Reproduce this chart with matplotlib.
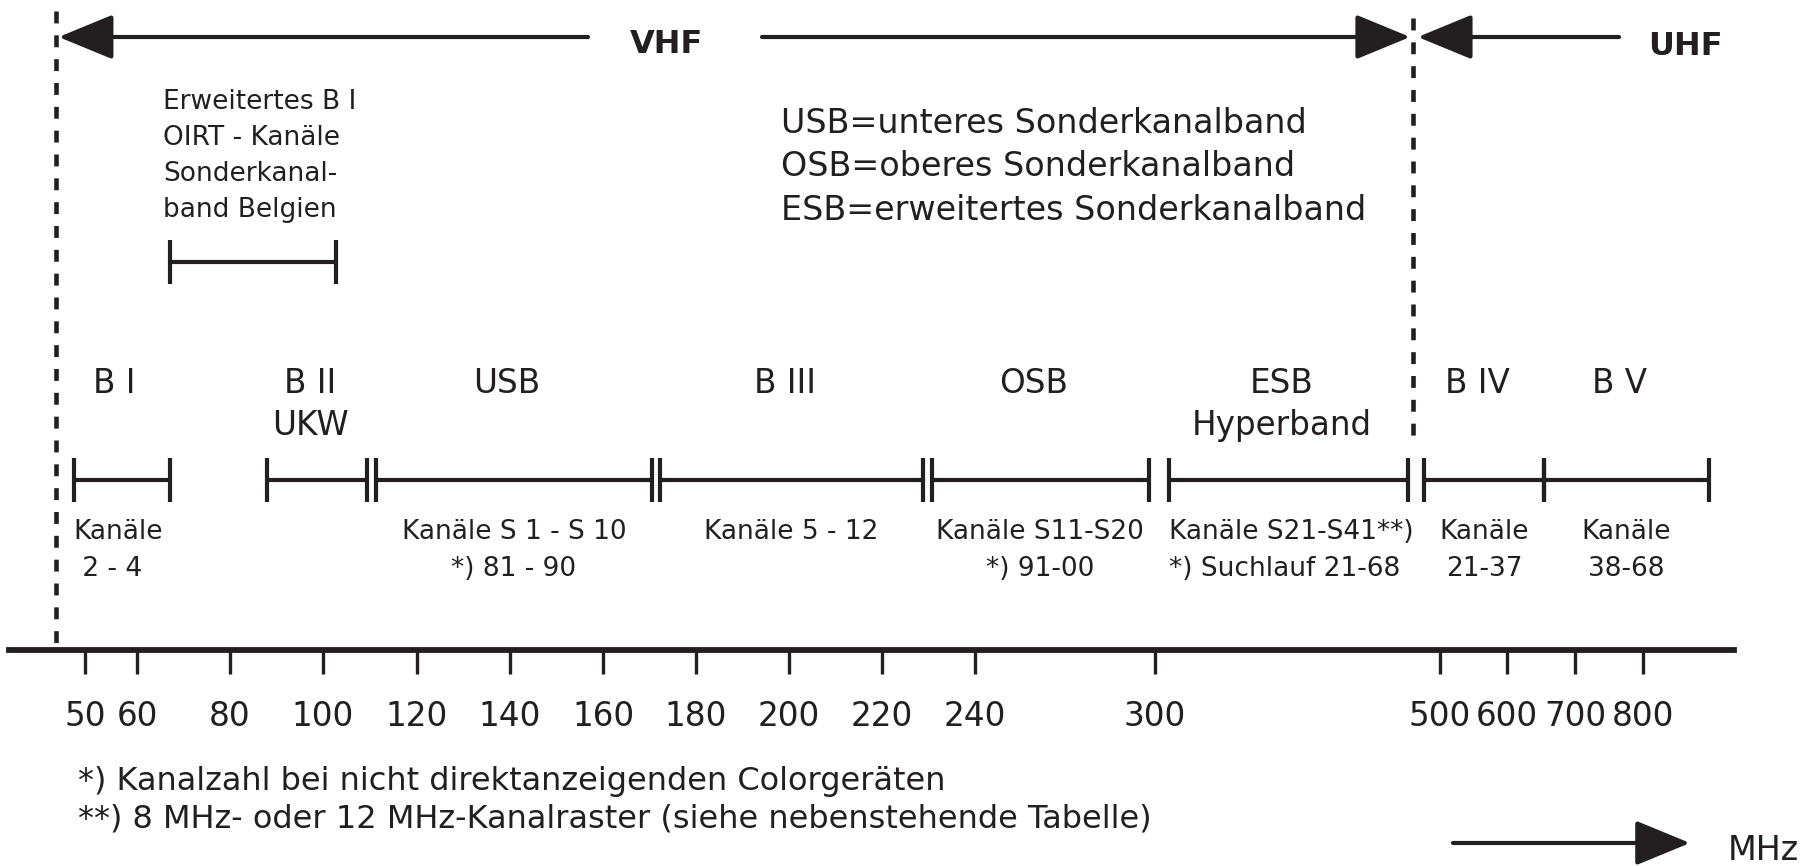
import numpy as np
import matplotlib.pyplot as plt

INK = "#231f20"

# frequency axis: tick values (MHz) and where they sit along the drawn axis (px)
TICK_MHZ = [50, 60, 80, 100, 120, 140, 160, 180, 200, 220, 240, 300, 500, 600, 700, 800]
TICK_PX = [85, 137, 230, 323, 417, 510, 603, 696, 789, 882, 975, 1155, 1440, 1507, 1575, 1643]

# bands (MHz edges)
BAND_NAMES = ["B I", "B II", "USB", "B III", "OSB", "ESB", "B IV", "B V"]
BAND_SUB = ["", "UKW", "", "", "", "Hyperband", "", ""]
BAND_LO = [47.8, 88.0, 111.3, 172.3, 230.7, 310.0, 489.0, 654.0]
BAND_HI = [67.0, 109.4, 170.5, 228.8, 298.0, 477.5, 654.0, 897.0]
CHAN_1 = ["Kanäle", "", "Kanäle S 1 - S 10", "Kanäle 5 - 12", "Kanäle S11-S20",
          "Kanäle S21-S41**)", "Kanäle", "Kanäle"]
CHAN_2 = [" 2 - 4", "", "*) 81 - 90", "", "*) 91-00", "*) Suchlauf 21-68", "21-37", "38-68"]

OIRT_BAND = (67.0, 102.8)
OIRT_TEXT = ["Erweitertes B I", "OIRT - Kanäle", "Sonderkanal-", "band Belgien"]

VHF_EDGES = (44.4, 481.0)

LEGEND = ["USB=unteres Sonderkanalband", "OSB=oberes Sonderkanalband",
          "ESB=erweitertes Sonderkanalband"]
FOOTNOTES = ["*) Kanalzahl bei nicht direktanzeigenden Colorgeräten",
             "**) 8 MHz- oder 12 MHz-Kanalraster (siehe nebenstehende Tabelle)"]


def _piecewise(v, xs, ys):
    v = np.asarray(v, dtype=float)
    out = np.interp(v, xs, ys)
    lo = (ys[1] - ys[0]) / (xs[1] - xs[0])
    hi = (ys[-1] - ys[-2]) / (xs[-1] - xs[-2])
    out = np.where(v < xs[0], ys[0] + (v - xs[0]) * lo, out)
    out = np.where(v > xs[-1], ys[-1] + (v - xs[-1]) * hi, out)
    return out


def fwd(f):
    return _piecewise(f, TICK_MHZ, TICK_PX)


def inv(p):
    return _piecewise(p, TICK_PX, TICK_MHZ)


W, H = 1803, 866
fig = plt.figure(figsize=(W / 100, H / 100), dpi=100)
ax = fig.add_axes([0, 0, 1, 1])
ax.set_xscale("function", functions=(fwd, inv))
ax.set_xlim(float(inv(0)), float(inv(W)))
ax.set_ylim(H, 0)

# frequency axis drawn with the real bottom spine
for s in ["top", "left", "right"]:
    ax.spines[s].set_visible(False)
ax.spines["bottom"].set_position(("data", 650))
ax.spines["bottom"].set_bounds(float(inv(9)), float(inv(1734)))
ax.spines["bottom"].set_linewidth(4.2)
ax.spines["bottom"].set_color(INK)
ax.set_yticks([])
ax.set_xticks(TICK_MHZ)
ax.set_xticklabels([str(t) for t in TICK_MHZ])
ax.xaxis.set_minor_locator(plt.NullLocator())
ax.tick_params(axis="x", direction="out", length=17, width=2.4, color=INK,
               pad=19, labelsize=23.5, labelcolor=INK)

band_y, tick_h = 480, 22
lw_band = 3.0

for name, sub, lo, hi, c1, c2 in zip(BAND_NAMES, BAND_SUB, BAND_LO, BAND_HI, CHAN_1, CHAN_2):
    ax.plot([lo, hi], [band_y, band_y], color=INK, lw=lw_band, solid_capstyle="butt")
    ax.vlines([lo, hi], band_y - tick_h, band_y + tick_h, color=INK, lw=lw_band)
    mid = float(inv((fwd(lo) + fwd(hi)) / 2))
    ax.annotate(name, (mid, 393), xytext=(-5, 0), textcoords="offset points",
                ha="center", va="baseline", fontsize=23.5, color=INK)
    if sub:
        ax.annotate(sub, (mid, 435), xytext=(-5, 0), textcoords="offset points",
                    ha="center", va="baseline", fontsize=23.5, color=INK)
    if name in ("B I", "ESB"):
        x, ha = lo, "left"
    else:
        x, ha = mid, "center"
    ax.text(x, 539, c1, ha=ha, va="baseline", fontsize=19, color=INK)
    if c2:
        ax.text(x, 576, c2, ha=ha, va="baseline", fontsize=19, color=INK)

# OIRT / Belgium bracket
oy = 262
ax.plot(OIRT_BAND, [oy, oy], color=INK, lw=lw_band, solid_capstyle="butt")
ax.vlines(OIRT_BAND, oy - 22, oy + 22, color=INK, lw=lw_band)
for i, t in enumerate(OIRT_TEXT):
    ax.text(float(inv(163)), 109 + i * 36, t, ha="left", va="baseline", fontsize=19, color=INK)

# legend of abbreviations
for i, t in enumerate(LEGEND):
    ax.text(float(inv(781)), 133 + i * 43.5, t, ha="left", va="baseline", fontsize=24, color=INK)

# VHF / UHF boundaries
for edge, top, bottom in [(VHF_EDGES[0], 11, 645), (VHF_EDGES[1], 18, 437)]:
    ax.plot([edge, edge], [top, bottom], color=INK, lw=3.3, dashes=(2.6, 2.6),
            dash_capstyle="butt")

head = dict(arrowstyle="-|>,head_length=34,head_width=14", mutation_scale=1,
            lw=3, color=INK, shrinkA=0)
ay = 37
ax.annotate("", xy=(VHF_EDGES[0], ay), xytext=(float(inv(588)), ay),
            arrowprops=dict(head, shrinkB=2))
ax.annotate("", xy=(VHF_EDGES[1], ay), xytext=(float(inv(762)), ay),
            arrowprops=dict(head, shrinkB=2))
ax.annotate("", xy=(VHF_EDGES[1], ay), xytext=(float(inv(1619)), ay),
            arrowprops=dict(head, shrinkB=3.5))
ax.text(float(inv(667)), 53, "VHF", ha="center", va="baseline", fontsize=23,
        fontweight="bold", color=INK)
ax.text(float(inv(1685)), 55, "UHF", ha="center", va="baseline", fontsize=23,
        fontweight="bold", color=INK)

# footnotes and unit arrow
for i, t in enumerate(FOOTNOTES):
    ax.text(float(inv(78)), 790 + i * 38, t, ha="left", va="baseline", fontsize=23, color=INK)
ax.annotate("", xy=(float(inv(1690)), 843), xytext=(float(inv(1453)), 843),
            arrowprops=dict(head, shrinkB=0))
ax.text(float(inv(1728)), 860, "MHz", ha="left", va="baseline", fontsize=24, color=INK)

fig.savefig("out.png", dpi=100, facecolor="white")
